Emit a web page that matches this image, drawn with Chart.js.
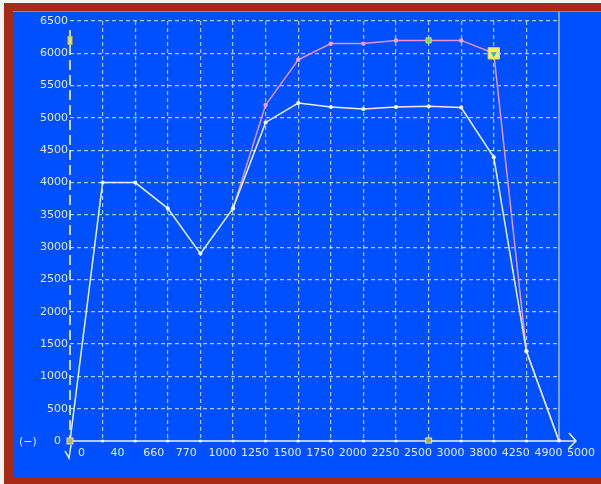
<!DOCTYPE html>
<html>
<head>
<meta charset="utf-8">
<script src="https://cdn.jsdelivr.net/npm/chart.js@4/dist/chart.umd.min.js"></script>
<style>
  html, body { margin: 0; padding: 0; background: #fff; }
  #chart { display: block; }
</style>
</head>
<body>
<canvas id="chart" width="601" height="484"></canvas>
<script>
// chart data
const xLabels = ['0', '40', '660', '770', '1000', '1250', '1500', '1750', '2000', '2250', '2500', '3000', '3800', '4250', '4900', '5000'];
const baseCurve = [0, 4000, 4000, 3600, 2900, 3600, 4930, 5230, 5170, 5140, 5170, 5180, 5160, 4390, 1390, 0];
const editCurve = [null, null, null, null, null, 3600, 5200, 5900, 6150, 6150, 6200, 6200, 6200, 6000, 1390, 0];
const yMin = 0;
const yMax = 6500;
const yStep = 500;
const cursorIndex = 11;
const cursorValue = 6200;
const selectedIndex = 13;

const bgBlue = '#0050ff';
const frameRed = '#a82a14';
const textColor = '#e2eaff';
const gridColor = 'rgba(205, 222, 255, 0.85)';

// frame + blue panel
const framePlugin = {
    id: 'frame',
    beforeDraw: (chart) => {
        const ctx = chart.ctx;
        ctx.save();
        ctx.fillStyle = '#f4f4f4';
        ctx.fillRect(0, 0, chart.width, chart.height);
        ctx.fillStyle = frameRed;
        ctx.fillRect(4, 3, chart.width - 4, chart.height - 3);
        ctx.fillStyle = bgBlue;
        ctx.fillRect(13, 11, chart.width - 13, 466);
        ctx.fillStyle = '#8a8a9a';
        ctx.fillRect(13, 11, chart.width - 13, 1);
        ctx.restore();
    }
};

// axes, arrows and cursor markers
const axisPlugin = {
    id: 'axisDeco',
    beforeDatasetsDraw: (chart) => {
        const ctx = chart.ctx;
        const xs = chart.scales.x;
        const ys = chart.scales.y;
        const x0 = xs.getPixelForTick(0);
        const xEnd = xs.getPixelForTick(xLabels.length - 1);
        const y0 = ys.getPixelForValue(0);
        ctx.save();

        // right boundary line
        ctx.strokeStyle = '#9fbfff';
        ctx.lineWidth = 1.5;
        ctx.beginPath();
        ctx.moveTo(xEnd, 12);
        ctx.lineTo(xEnd, y0);
        ctx.stroke();

        // y axis, long dashes
        ctx.strokeStyle = 'rgba(215, 228, 255, 0.9)';
        ctx.lineWidth = 2;
        ctx.setLineDash([10, 5]);
        ctx.beginPath();
        ctx.moveTo(x0, 30);
        ctx.lineTo(x0, y0);
        ctx.stroke();
        ctx.setLineDash([]);

        // x axis solid with arrow
        ctx.strokeStyle = '#eef3ff';
        ctx.lineWidth = 1.5;
        ctx.beginPath();
        ctx.moveTo(x0, y0);
        ctx.lineTo(xEnd + 17, y0);
        ctx.stroke();
        ctx.beginPath();
        ctx.moveTo(xEnd + 10, y0 - 8);
        ctx.lineTo(xEnd + 17, y0);
        ctx.lineTo(xEnd + 10, y0 + 7);
        ctx.stroke();

        // down arrow under origin
        ctx.beginPath();
        ctx.moveTo(x0 - 5, y0 + 10);
        ctx.lineTo(x0 - 1, y0 + 17);
        ctx.lineTo(x0 + 1, y0 + 4);
        ctx.stroke();

        // small dots on the x axis
        ctx.fillStyle = '#ffffff';
        for (let i = 1; i < xLabels.length; i++) {
            ctx.beginPath();
            ctx.arc(xs.getPixelForTick(i), y0, 1.6, 0, Math.PI * 2);
            ctx.fill();
        }

        // unit label
        ctx.fillStyle = textColor;
        ctx.font = '11px "DejaVu Sans"';
        ctx.textAlign = 'left';
        ctx.textBaseline = 'middle';
        ctx.fillText('(−)', 19, y0 + 1);
        ctx.restore();
    },
    afterDatasetsDraw: (chart) => {
        const ctx = chart.ctx;
        const xs = chart.scales.x;
        const ys = chart.scales.y;
        const x0 = xs.getPixelForTick(0);
        const y0 = ys.getPixelForValue(0);
        ctx.save();
        ctx.lineWidth = 1;

        // origin marker
        ctx.fillStyle = '#b8b848';
        ctx.strokeStyle = '#e8e890';
        ctx.fillRect(x0 - 3, y0 - 3, 6, 6);
        ctx.strokeRect(x0 - 3, y0 - 3, 6, 6);

        // cursor on x axis
        const cx = xs.getPixelForTick(cursorIndex);
        ctx.fillStyle = '#a8a840';
        ctx.fillRect(cx - 3, y0 - 3, 6, 5);
        ctx.strokeRect(cx - 3, y0 - 3, 6, 5);

        // cursor on y axis
        const cy = ys.getPixelForValue(cursorValue);
        ctx.fillStyle = '#e8e060';
        ctx.strokeStyle = '#c8c040';
        ctx.fillRect(x0 - 2, cy - 4, 4, 8);
        ctx.strokeRect(x0 - 2, cy - 4, 4, 8);

        // teal dot inside selected point
        const sx = xs.getPixelForTick(selectedIndex);
        const sy = ys.getPixelForValue(editCurve[selectedIndex]);
        ctx.fillStyle = '#20c0a0';
        ctx.beginPath();
        ctx.moveTo(sx - 3, sy - 1);
        ctx.lineTo(sx + 3, sy - 1);
        ctx.lineTo(sx, sy + 4);
        ctx.closePath();
        ctx.fill();
        ctx.restore();
    }
};

const ctx = document.getElementById('chart').getContext('2d');

const chart = new Chart(ctx, {
    type: 'line',
    data: {
        labels: xLabels,
        datasets: [{
            label: 'base',
            data: baseCurve,
            borderColor: '#e8f0ff',
            borderWidth: 1.5,
            pointRadius: (c) => (c.dataIndex === 0 ? 0 : 2),
            pointBackgroundColor: '#ffffff',
            pointBorderWidth: 0,
            tension: 0
        }, {
            label: 'edit',
            data: editCurve,
            borderColor: '#e890d8',
            borderWidth: 1.5,
            pointStyle: (c) => ((c.dataIndex === cursorIndex || c.dataIndex === selectedIndex) ? 'rect' : 'circle'),
            pointRadius: (c) => {
                if (c.dataIndex === selectedIndex) return 8;
                if (c.dataIndex === cursorIndex) return 3.6;
                return 2.2;
            },
            pointBackgroundColor: (c) => {
                if (c.dataIndex === selectedIndex) return '#f4f060';
                if (c.dataIndex === cursorIndex) return '#50e0a0';
                return '#f0a0e0';
            },
            pointBorderColor: (c) => ((c.dataIndex === cursorIndex || c.dataIndex === selectedIndex) ? '#e8e040' : '#f0a0e0'),
            pointBorderWidth: (c) => ((c.dataIndex === cursorIndex || c.dataIndex === selectedIndex) ? 1 : 0),
            spanGaps: false,
            tension: 0
        }]
    },
    options: {
        responsive: false,
        animation: false,
        layout: {
            padding: {top: 21, right: 42, left: 0, bottom: 0}
        },
        scales: {
            x: {
                offset: false,
                afterFit: (scale) => { scale.height = 43; },
                grid: {
                    color: (c) => ((c.index === 0 || c.index === xLabels.length - 1) ? 'rgba(0,0,0,0)' : gridColor),
                    lineWidth: 1.2,
                    drawTicks: false
                },
                border: {display: false, dash: [4, 3]},
                ticks: {
                    color: textColor,
                    font: {family: 'DejaVu Sans', size: 11},
                    align: 'start',
                    labelOffset: 8,
                    padding: 6,
                    autoSkip: false,
                    maxRotation: 0
                }
            },
            y: {
                min: yMin,
                max: yMax,
                afterFit: (scale) => { scale.width = 70; },
                grid: {
                    color: (c) => (c.tick && c.tick.value === 0 ? 'rgba(0,0,0,0)' : gridColor),
                    lineWidth: 1.2,
                    drawTicks: false
                },
                border: {display: false, dash: [4, 3]},
                ticks: {
                    stepSize: yStep,
                    color: textColor,
                    font: {family: 'DejaVu Sans', size: 11},
                    padding: 2,
                    callback: (value) => (value === 0 ? '0  ' : String(value))
                }
            }
        },
        plugins: {
            legend: {display: false},
            tooltip: {enabled: false}
        }
    },
    plugins: [framePlugin, axisPlugin]
});
</script>
</body>
</html>
